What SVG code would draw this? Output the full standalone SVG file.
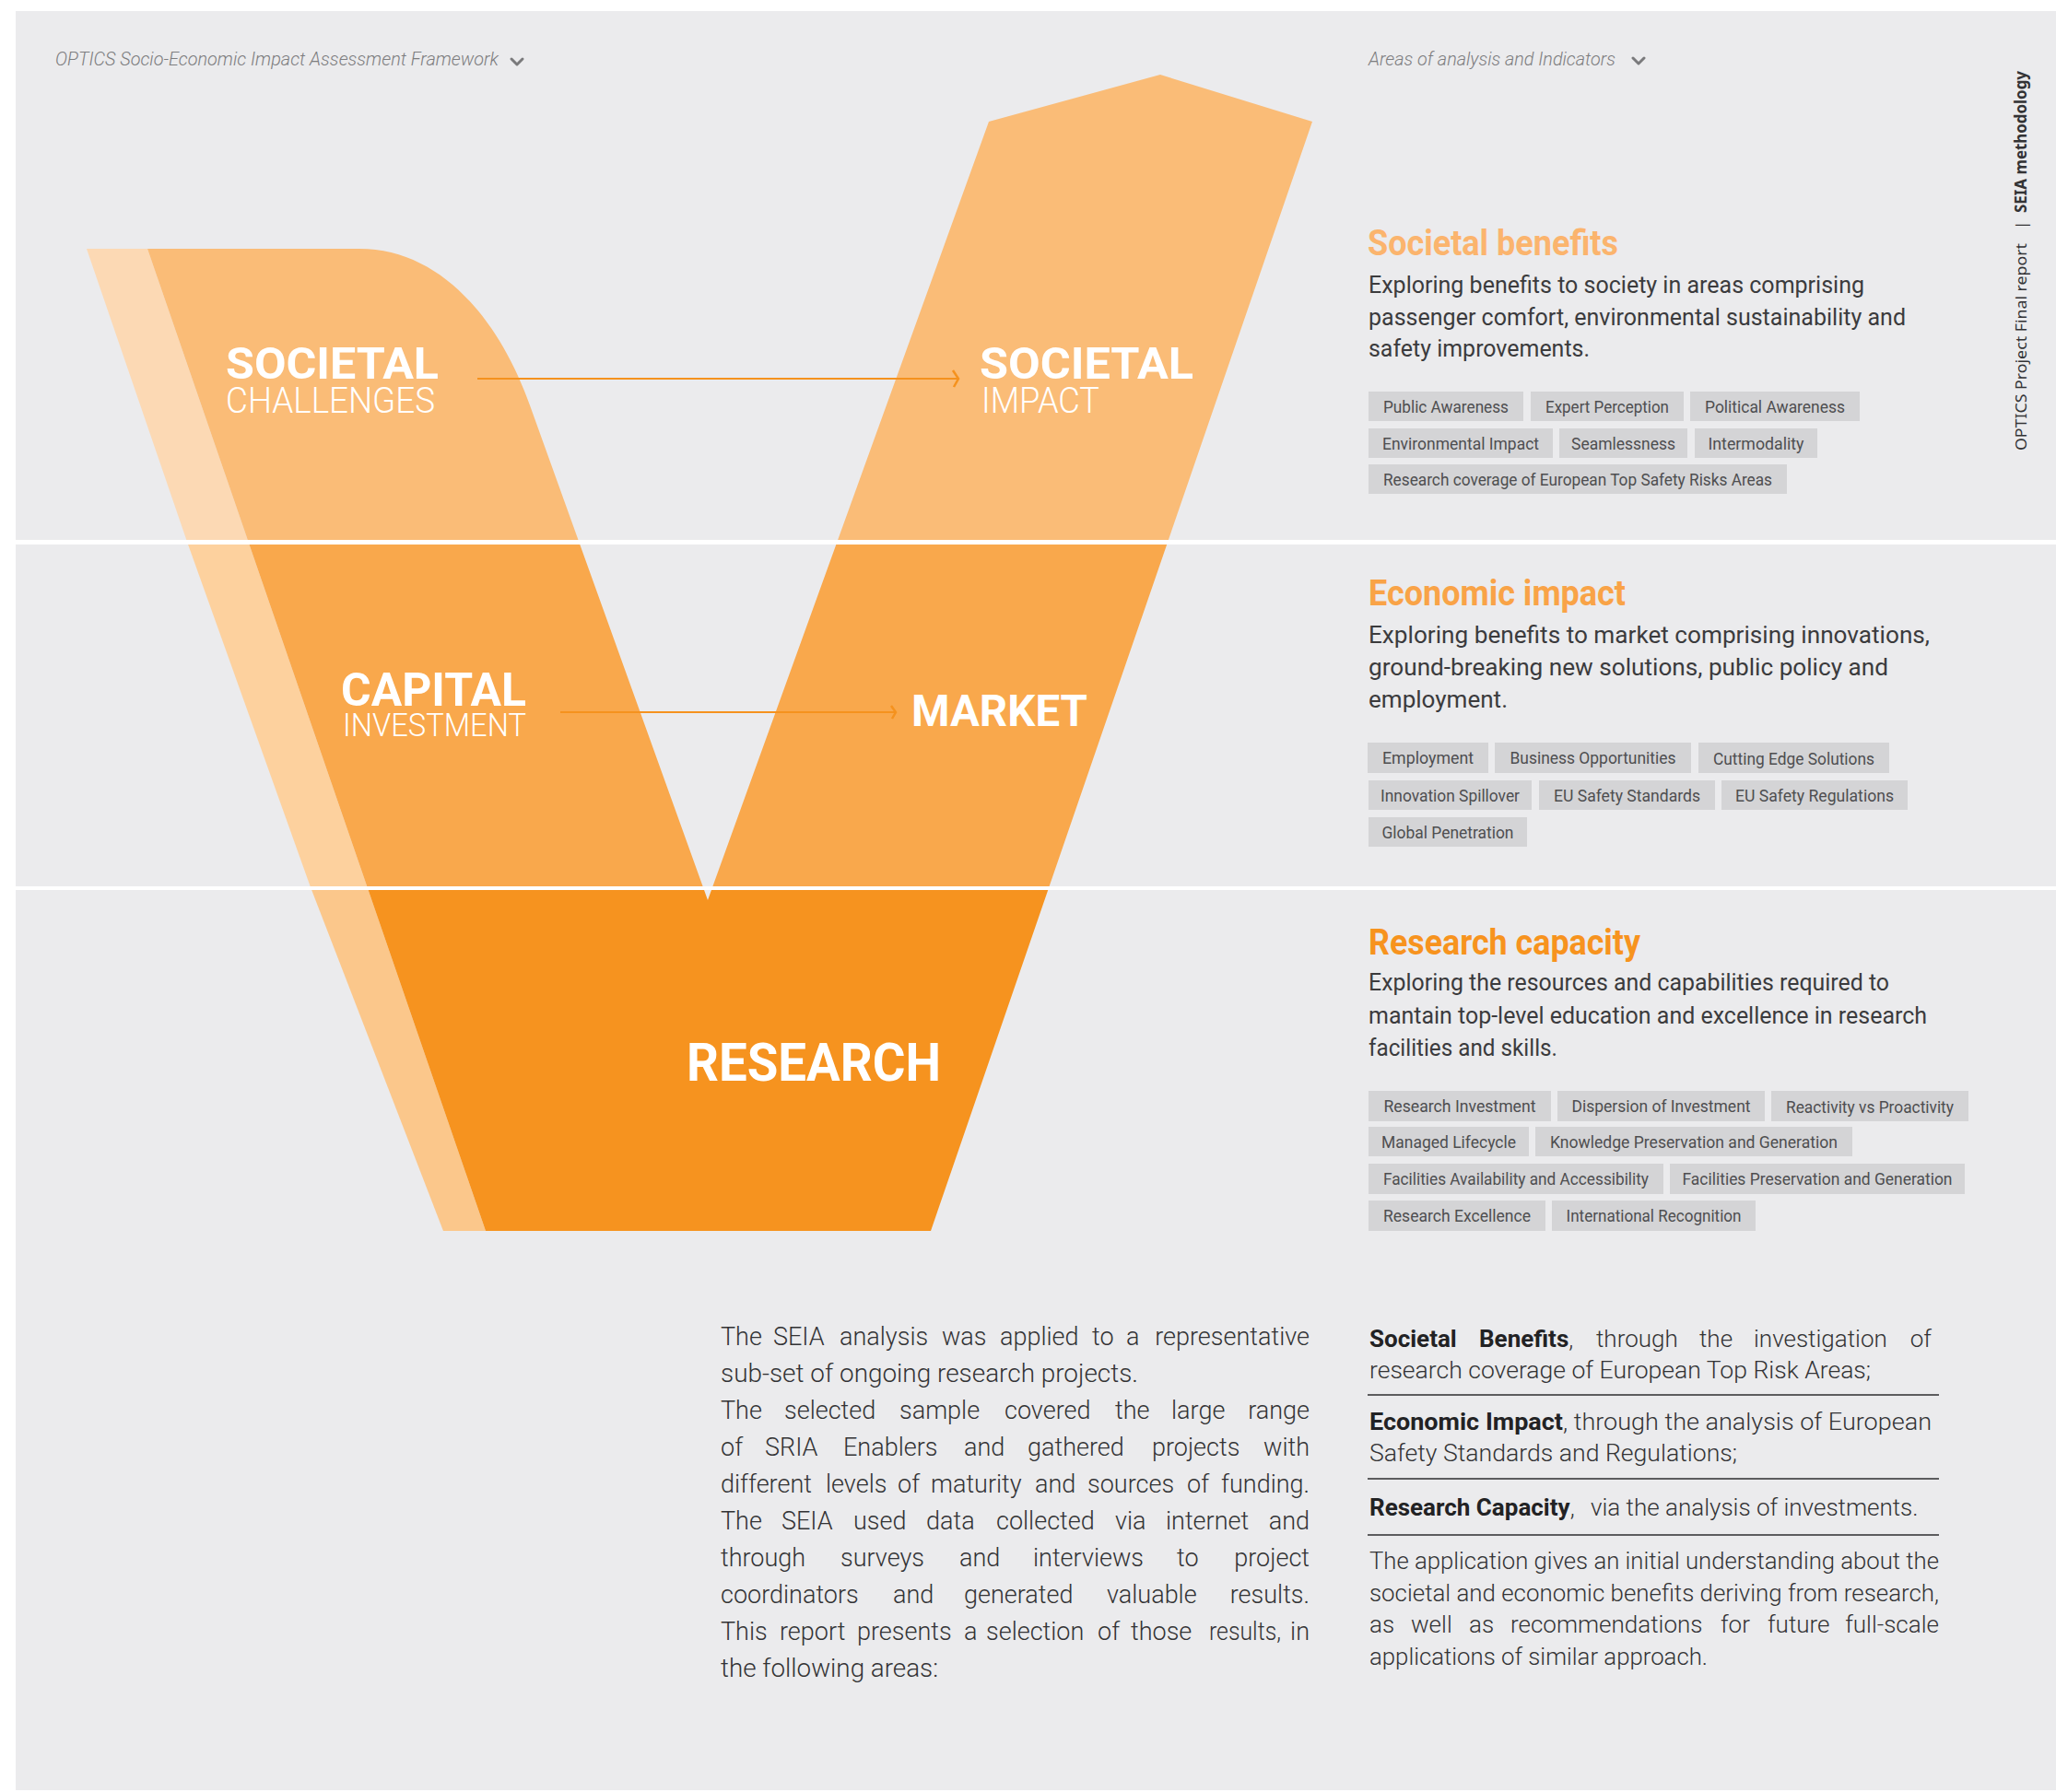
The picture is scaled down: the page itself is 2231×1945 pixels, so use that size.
<svg xmlns="http://www.w3.org/2000/svg" width="2231" height="1945" viewBox="0 0 2231 1945">
<style>
.rb{font-family:Roboto,'Liberation Sans',sans-serif}
.vbig{font-family:Roboto,'Liberation Sans',sans-serif;font-weight:700;fill:#fff}
.vsub{font-family:Roboto,'Liberation Sans',sans-serif;font-weight:300;fill:#fff}
.hdr{font-family:Roboto,'Liberation Sans',sans-serif;font-style:italic;font-weight:300;font-size:20px;fill:#7d7d7f}
.ttl{font-family:Roboto,'Liberation Sans',sans-serif;font-weight:700;font-size:38px}
.body{font-family:Roboto,'Liberation Sans',sans-serif;font-weight:400;font-size:26px;fill:#3b3b3d}
.tagb{fill:#d4d4d6}
.tagt{font-family:Roboto,'Liberation Sans',sans-serif;font-weight:400;font-size:18px;fill:#4e4e50;text-anchor:middle}
.para{font-family:Roboto,'Liberation Sans',sans-serif;font-weight:300;font-size:27px;fill:#333335}
.para2{font-family:Roboto,'Liberation Sans',sans-serif;font-weight:300;font-size:26px;fill:#333335}
.bold{font-weight:700;fill:#222224}
.sep{stroke:#5c5c5e;stroke-width:2}
.chev{fill:none;stroke:#7a7a7c;stroke-width:3;stroke-linecap:round;stroke-linejoin:round}
.conn{stroke:#F5921E;stroke-width:2;fill:none}
</style>
<defs>
<clipPath id="b1"><rect x="0" y="0" width="2231" height="588"/></clipPath>
<clipPath id="b2"><rect x="0" y="588" width="2231" height="376"/></clipPath>
<clipPath id="b3"><rect x="0" y="964" width="2231" height="1000"/></clipPath>
<path id="mainShape" d="M160,270 L390,270 C480,270 543,350 575,440 L768,977 L1073,132 L1259,81 L1424,132 L1010,1336 L527,1336 Z"/>
<path id="lightStrip" d="M94,270 L160,270 L527,1336 L481,1336 L337,963 L203,588 Z"/>
<marker id="chevA" viewBox="0 0 10 20" refX="8" refY="10" markerWidth="10" markerHeight="20" markerUnits="userSpaceOnUse" orient="auto">
<path d="M2,1 L8,10 L3,19" fill="none" stroke="#F5921E" stroke-width="2.5"/>
</marker>
<marker id="chevB" viewBox="0 0 10 20" refX="8" refY="10" markerWidth="10" markerHeight="20" markerUnits="userSpaceOnUse" orient="auto">
<path d="M3,3 L8,10 L4,17" fill="none" stroke="#F5921E" stroke-width="2.5"/>
</marker>
</defs>

<rect x="0" y="0" width="2231" height="1945" fill="#ffffff"/>
<rect x="17" y="12" width="2214" height="1931" fill="#ebebed"/>

<g id="v-shape">
<use href="#lightStrip" clip-path="url(#b1)" fill="#fcd9b4"/>
<use href="#lightStrip" clip-path="url(#b2)" fill="#fdd19e"/>
<use href="#lightStrip" clip-path="url(#b3)" fill="#fbc78b"/>
<use href="#mainShape" clip-path="url(#b1)" fill="#fabc77"/>
<use href="#mainShape" clip-path="url(#b2)" fill="#f9a84c"/>
<use href="#mainShape" clip-path="url(#b3)" fill="#f6931f"/>
</g>

<g id="band-lines" fill="#ffffff">
<rect x="17" y="586" width="2214" height="5"/>
<rect x="17" y="962" width="2214" height="4"/>
</g>

<g id="headers">
<text class="hdr" x="60" y="71" textLength="481" lengthAdjust="spacingAndGlyphs">OPTICS Socio-Economic Impact Assessment Framework</text>
<path class="chev" d="M555,64 L561,70 L567,64"/>
<text class="hdr" x="1485" y="71" textLength="268" lengthAdjust="spacingAndGlyphs">Areas of analysis and Indicators</text>
<path class="chev" d="M1772,63 L1778,69 L1784,63"/>
</g>

<g id="side-label">
<text transform="translate(2199,489) rotate(-90)" font-family="'Noto Sans','DejaVu Sans',sans-serif" font-size="17" fill="#333335"><tspan x="0" y="0" textLength="225" lengthAdjust="spacingAndGlyphs">OPTICS  Project Final report</tspan><tspan x="240" y="0">|</tspan><tspan x="258" y="0" font-weight="700" textLength="154" lengthAdjust="spacingAndGlyphs">SEIA methodology</tspan></text>
</g>

<g id="node-societal-challenges">
<text class="vbig" x="245" y="411" font-size="48" textLength="231" lengthAdjust="spacingAndGlyphs">SOCIETAL</text>
<text class="vsub" x="245" y="448" font-size="38" textLength="227" lengthAdjust="spacingAndGlyphs">CHALLENGES</text>
</g>
<g id="node-societal-impact">
<text class="vbig" x="1063" y="411" font-size="48" textLength="232" lengthAdjust="spacingAndGlyphs">SOCIETAL</text>
<text class="vsub" x="1065" y="448" font-size="38" textLength="128" lengthAdjust="spacingAndGlyphs">IMPACT</text>
</g>
<g id="node-capital-investment">
<text class="vbig" x="370" y="766" font-size="50" textLength="201" lengthAdjust="spacingAndGlyphs">CAPITAL</text>
<text class="vsub" x="372" y="799" font-size="35" textLength="199" lengthAdjust="spacingAndGlyphs">INVESTMENT</text>
</g>
<g id="node-market">
<text class="vbig" x="989" y="788" font-size="48" textLength="191" lengthAdjust="spacingAndGlyphs">MARKET</text>
</g>
<g id="node-research">
<text class="vbig" x="745" y="1173" font-size="58" textLength="276" lengthAdjust="spacingAndGlyphs">RESEARCH</text>
</g>

<g id="connectors">
<line class="conn" x1="518" y1="411" x2="1040" y2="411" marker-end="url(#chevA)"/>
<line class="conn" x1="608" y1="773" x2="972" y2="773" marker-end="url(#chevB)"/>
</g>

<g id="section-societal">
<text class="ttl" x="1484" y="277" fill="#fbb46d" textLength="272" lengthAdjust="spacingAndGlyphs">Societal benefits</text>
<text class="body" x="1485" y="318" textLength="538" lengthAdjust="spacingAndGlyphs">Exploring benefits to society in areas comprising</text>
<text class="body" x="1485" y="353" textLength="583" lengthAdjust="spacingAndGlyphs">passenger comfort, environmental sustainability and</text>
<text class="body" x="1485" y="387" textLength="240" lengthAdjust="spacingAndGlyphs">safety improvements.</text>
<rect class="tagb" x="1485" y="425" width="168" height="32"/><text class="tagt" x="1569" y="447.5" textLength="136" lengthAdjust="spacingAndGlyphs">Public Awareness</text>
<rect class="tagb" x="1661" y="425" width="166" height="32"/><text class="tagt" x="1744" y="447.5" textLength="134" lengthAdjust="spacingAndGlyphs">Expert Perception</text>
<rect class="tagb" x="1834" y="425" width="184" height="32"/><text class="tagt" x="1926" y="447.5" textLength="152" lengthAdjust="spacingAndGlyphs">Political Awareness</text>
<rect class="tagb" x="1485" y="465" width="200" height="32"/><text class="tagt" x="1585" y="487.5" textLength="170" lengthAdjust="spacingAndGlyphs">Environmental Impact</text>
<rect class="tagb" x="1692" y="465" width="139" height="32"/><text class="tagt" x="1761.5" y="487.5" textLength="113" lengthAdjust="spacingAndGlyphs">Seamlessness</text>
<rect class="tagb" x="1839" y="465" width="133" height="32"/><text class="tagt" x="1905.5" y="487.5" textLength="104" lengthAdjust="spacingAndGlyphs">Intermodality</text>
<rect class="tagb" x="1485" y="504" width="454" height="32"/><text class="tagt" x="1712" y="526.5" textLength="422" lengthAdjust="spacingAndGlyphs">Research coverage of European Top Safety Risks Areas</text>
</g>

<g id="section-economic">
<text class="ttl" x="1485" y="657" fill="#f9a347" textLength="279" lengthAdjust="spacingAndGlyphs">Economic impact</text>
<text class="body" x="1485" y="698" textLength="609" lengthAdjust="spacingAndGlyphs">Exploring benefits to market comprising innovations,</text>
<text class="body" x="1485" y="733" textLength="564" lengthAdjust="spacingAndGlyphs">ground-breaking new solutions, public policy and</text>
<text class="body" x="1485" y="768" textLength="151" lengthAdjust="spacingAndGlyphs">employment.</text>
<rect class="tagb" x="1484" y="806" width="131" height="33"/><text class="tagt" x="1549.5" y="829" textLength="99" lengthAdjust="spacingAndGlyphs">Employment</text>
<rect class="tagb" x="1622" y="806" width="213" height="33"/><text class="tagt" x="1728.5" y="829" textLength="180" lengthAdjust="spacingAndGlyphs">Business Opportunities</text>
<rect class="tagb" x="1843" y="806" width="207" height="33"/><text class="tagt" x="1946.5" y="830" textLength="175" lengthAdjust="spacingAndGlyphs">Cutting Edge Solutions</text>
<rect class="tagb" x="1485" y="847" width="177" height="32"/><text class="tagt" x="1573.5" y="869.5" textLength="151" lengthAdjust="spacingAndGlyphs">Innovation Spillover</text>
<rect class="tagb" x="1670" y="847" width="191" height="32"/><text class="tagt" x="1765.5" y="869.5" textLength="159" lengthAdjust="spacingAndGlyphs">EU Safety Standards</text>
<rect class="tagb" x="1868" y="847" width="202" height="32"/><text class="tagt" x="1969" y="869.5" textLength="172" lengthAdjust="spacingAndGlyphs">EU Safety Regulations</text>
<rect class="tagb" x="1485" y="887" width="172" height="32"/><text class="tagt" x="1571" y="909.5" textLength="143" lengthAdjust="spacingAndGlyphs">Global Penetration</text>
</g>

<g id="section-research">
<text class="ttl" x="1485" y="1036" fill="#f7931e" textLength="295" lengthAdjust="spacingAndGlyphs">Research capacity</text>
<text class="body" x="1485" y="1075" textLength="565" lengthAdjust="spacingAndGlyphs">Exploring the resources and capabilities required to</text>
<text class="body" x="1485" y="1111" textLength="606" lengthAdjust="spacingAndGlyphs">mantain top-level education and excellence in research</text>
<text class="body" x="1485" y="1146" textLength="205" lengthAdjust="spacingAndGlyphs">facilities and skills.</text>
<rect class="tagb" x="1485" y="1184" width="198" height="33"/><text class="tagt" x="1584" y="1207" textLength="165" lengthAdjust="spacingAndGlyphs">Research Investment</text>
<rect class="tagb" x="1690" y="1184" width="225" height="33"/><text class="tagt" x="1802.5" y="1207" textLength="194" lengthAdjust="spacingAndGlyphs">Dispersion of Investment</text>
<rect class="tagb" x="1922" y="1184" width="214" height="33"/><text class="tagt" x="2029" y="1208" textLength="182" lengthAdjust="spacingAndGlyphs">Reactivity vs Proactivity</text>
<rect class="tagb" x="1485" y="1223" width="174" height="32"/><text class="tagt" x="1572" y="1245.5" textLength="146" lengthAdjust="spacingAndGlyphs">Managed Lifecycle</text>
<rect class="tagb" x="1666" y="1223" width="344" height="32"/><text class="tagt" x="1838" y="1245.5" textLength="312" lengthAdjust="spacingAndGlyphs">Knowledge Preservation and Generation</text>
<rect class="tagb" x="1485" y="1263" width="320" height="33"/><text class="tagt" x="1645" y="1286" textLength="288" lengthAdjust="spacingAndGlyphs">Facilities Availability and Accessibility</text>
<rect class="tagb" x="1812" y="1263" width="320" height="33"/><text class="tagt" x="1972" y="1286" textLength="293" lengthAdjust="spacingAndGlyphs">Facilities Preservation and Generation</text>
<rect class="tagb" x="1485" y="1303" width="192" height="33"/><text class="tagt" x="1581" y="1326" textLength="160" lengthAdjust="spacingAndGlyphs">Research Excellence</text>
<rect class="tagb" x="1684" y="1303" width="221" height="33"/><text class="tagt" x="1794.5" y="1326" textLength="190" lengthAdjust="spacingAndGlyphs">International Recognition</text>
</g>

<g id="text-left">
<text class="para" y="1460"><tspan x="782">The</tspan><tspan x="839">SEIA</tspan><tspan x="911">analysis</tspan><tspan x="1022">was</tspan><tspan x="1085">applied</tspan><tspan x="1185">to</tspan><tspan x="1222">a</tspan><tspan x="1421" text-anchor="end">representative</tspan></text>
<text class="para" x="782" y="1500" textLength="453" lengthAdjust="spacingAndGlyphs">sub-set of ongoing research projects.</text>
<text class="para" y="1540"><tspan x="782">The</tspan><tspan x="851">selected</tspan><tspan x="976">sample</tspan><tspan x="1090">covered</tspan><tspan x="1210">the</tspan><tspan x="1271">large</tspan><tspan x="1421" text-anchor="end">range</tspan></text>
<text class="para" y="1580"><tspan x="782">of</tspan><tspan x="830">SRIA</tspan><tspan x="915">Enablers</tspan><tspan x="1046">and</tspan><tspan x="1115">gathered</tspan><tspan x="1250">projects</tspan><tspan x="1421" text-anchor="end">with</tspan></text>
<text class="para" y="1620"><tspan x="782">different</tspan><tspan x="896">levels</tspan><tspan x="974">of</tspan><tspan x="1010">maturity</tspan><tspan x="1123">and</tspan><tspan x="1180">sources</tspan><tspan x="1288">of</tspan><tspan x="1421" text-anchor="end">funding.</tspan></text>
<text class="para" y="1660"><tspan x="782">The</tspan><tspan x="848">SEIA</tspan><tspan x="926">used</tspan><tspan x="1005">data</tspan><tspan x="1081">collected</tspan><tspan x="1210">via</tspan><tspan x="1265">internet</tspan><tspan x="1421" text-anchor="end">and</tspan></text>
<text class="para" y="1700"><tspan x="782">through</tspan><tspan x="912">surveys</tspan><tspan x="1041">and</tspan><tspan x="1121">interviews</tspan><tspan x="1277">to</tspan><tspan x="1421" text-anchor="end">project</tspan></text>
<text class="para" y="1740"><tspan x="782">coordinators</tspan><tspan x="969">and</tspan><tspan x="1046">generated</tspan><tspan x="1201">valuable</tspan><tspan x="1421" text-anchor="end">results.</tspan></text>
<text class="para" y="1780"><tspan x="782">This</tspan><tspan x="846">report</tspan><tspan x="930">presents</tspan><tspan x="1046">a</tspan><tspan x="1070">selection</tspan><tspan x="1191">of</tspan><tspan x="1227">those</tspan><tspan x="1312" textLength="78" lengthAdjust="spacingAndGlyphs">results,</tspan><tspan x="1421" text-anchor="end">in</tspan></text>
<text class="para" x="782" y="1820" textLength="236" lengthAdjust="spacingAndGlyphs">the following areas:</text>
</g>

<g id="text-right">
<text class="para2" y="1462"><tspan x="1486" class="bold">Societal</tspan><tspan x="1605" class="bold">Benefits</tspan><tspan>,</tspan><tspan x="1732">through</tspan><tspan x="1844">the</tspan><tspan x="1903">investigation</tspan><tspan x="2096" text-anchor="end">of</tspan></text>
<text class="para2" x="1486" y="1496" textLength="544" lengthAdjust="spacingAndGlyphs">research coverage of European Top Risk Areas;</text>
<line class="sep" x1="1484" y1="1514" x2="2104" y2="1514"/>
<text class="para2" x="1486" y="1552" textLength="610" lengthAdjust="spacingAndGlyphs"><tspan class="bold">Economic Impact</tspan>, through the analysis of European</text>
<text class="para2" x="1486" y="1586" textLength="399" lengthAdjust="spacingAndGlyphs">Safety Standards and Regulations;</text>
<line class="sep" x1="1484" y1="1605" x2="2104" y2="1605"/>
<text class="para2" y="1645"><tspan x="1486" class="bold">Research Capacity</tspan><tspan>,</tspan><tspan x="1726">via the analysis of investments.</tspan></text>
<line class="sep" x1="1484" y1="1666" x2="2104" y2="1666" stroke="#7a7a7c"/>
<text class="para2" x="1486" y="1703" textLength="618" lengthAdjust="spacingAndGlyphs">The application gives an initial understanding about the</text>
<text class="para2" x="1486" y="1738" textLength="618" lengthAdjust="spacingAndGlyphs">societal and economic benefits deriving from research,</text>
<text class="para2" y="1772"><tspan x="1486">as</tspan><tspan x="1531">well</tspan><tspan x="1594">as</tspan><tspan x="1639">recommendations</tspan><tspan x="1867">for</tspan><tspan x="1918">future</tspan><tspan x="2104" text-anchor="end">full-scale</tspan></text>
<text class="para2" x="1486" y="1807" textLength="367" lengthAdjust="spacingAndGlyphs">applications of similar approach.</text>
</g>
</svg>
